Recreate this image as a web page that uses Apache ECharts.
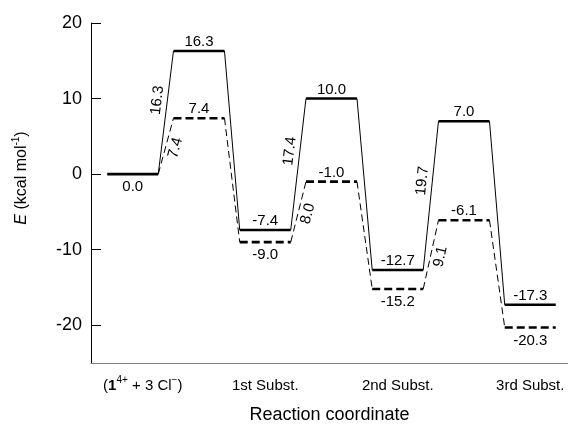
<!DOCTYPE html>
<html>
<head>
<meta charset="utf-8">
<script src="https://cdn.jsdelivr.net/npm/echarts@6/dist/echarts.min.js"></script>
<style>
  html, body { margin: 0; padding: 0; background: #fff; }
  #main { width: 568px; height: 429px; }
</style>
</head>
<body>
<div id="main"></div>
<script>
// energies (kcal/mol) for each point on the reaction path
var stagePos = [0, 2, 4, 6];
var stageNames = ['(1^4+ + 3 Cl^-)', '1st Subst.', '2nd Subst.', '3rd Subst.'];
var solidE = [0.0, 16.3, -7.4, 10.0, -12.7, 7.0, -17.3];
var dashedE = [0.0, 7.4, -9.0, -1.0, -15.2, -6.1, -20.3];
var solidBarrier = [16.3, 17.4, 19.7];   // 活化能 (实线)
var dashedBarrier = [7.4, 8.0, 9.1];     // 活化能 (虚线)
var yTicks = [-20, -10, 0, 10, 20];

var FONT = 'Liberation Sans, Arial, sans-serif';
var HALF = 0.385; // 半个能级宽度

var myChart = echarts.init(document.getElementById('main'));

function makeRender(values, barriers, dashed) {
    return function (params, api) {
        var i = api.value(0), e = api.value(1);
        var a = api.coord([i - HALF, e]);
        var b = api.coord([i + HALF, e]);
        var children = [];
        if (!(dashed && i === 0)) {
            children.push({
                type: 'line',
                shape: {x1: a[0], y1: a[1], x2: b[0], y2: b[1]},
                style: {stroke: '#000', lineWidth: 2.6, lineDash: dashed ? [8, 4] : null}
            });
            var below = dashed ? (i % 2 === 0) : (i === 0);
            children.push({
                type: 'text',
                x: (a[0] + b[0]) / 2,
                y: a[1] + (below ? 13 : -9),
                style: {text: e.toFixed(1), fill: '#000', fontSize: 15, fontFamily: FONT,
                        align: 'center', verticalAlign: 'middle'}
            });
        }
        if (i < values.length - 1) {
            var c = api.coord([i + 1 - HALF, values[i + 1]]);
            children.push({
                type: 'line',
                shape: {x1: b[0], y1: b[1], x2: c[0], y2: c[1]},
                style: {stroke: '#000', lineWidth: 1, lineDash: dashed ? [7, 4] : null}
            });
            if (i % 2 === 0) {
                var f = dashed ? 0.47 : 0.6;
                var ang = Math.atan2(-(c[1] - b[1]), c[0] - b[0]);
                children.push({
                    type: 'text',
                    x: b[0] + (c[0] - b[0]) * f + (dashed ? 10 : -10),
                    y: b[1] + (c[1] - b[1]) * f,
                    rotation: ang,
                    style: {text: barriers[i / 2].toFixed(1), fill: '#000', fontSize: 15, fontFamily: FONT,
                            align: 'center', verticalAlign: 'middle'}
                });
            }
        }
        return {type: 'group', children: children};
    };
}

function toData(values) {
    return values.map(function (e, i) { return [i, e]; });
}

var option = {
    animation: false,
    backgroundColor: '#fff',
    grid: {left: 91, right: 0, top: 23, bottom: 61},
    xAxis: {
        type: 'value',
        min: -0.63,
        max: 6.57,
        name: 'Reaction coordinate',
        nameLocation: 'middle',
        nameGap: 43,
        nameTextStyle: {fontSize: 18, fontFamily: FONT, color: '#000'},
        axisLine: {onZero: false, lineStyle: {color: '#808080', width: 1}},
        axisTick: {show: false},
        splitLine: {show: false},
        axisLabel: {
            customValues: stagePos,
            margin: 12,
            color: '#000',
            fontSize: 15,
            fontFamily: FONT,
            formatter: function (v) {
                var k = stagePos.indexOf(v);
                if (k === 0) {
                    return '{lp|(}{b|1}{sup|4+}{n| + 3 Cl}{sup|\u2212}{n|)}';
                }
                return '{n|' + stageNames[k] + '}';
            },
            rich: {
                lp: {fontSize: 15, fontFamily: FONT, color: '#000', lineHeight: 21, padding: [0, 0, 0, 20]},
                n: {fontSize: 15, fontFamily: FONT, color: '#000', lineHeight: 21},
                b: {fontSize: 15, fontFamily: FONT, color: '#000', fontWeight: 'bold', lineHeight: 21},
                sup: {fontSize: 10, fontFamily: FONT, color: '#000', verticalAlign: 'top'}
            }
        }
    },
    yAxis: {
        type: 'value',
        min: -25,
        max: 20,
        name: '{i|E} (kcal mol{sup|-1})',
        nameLocation: 'middle',
        nameRotate: 90,
        nameGap: 58,
        nameTextStyle: {
            fontSize: 16, fontFamily: FONT, color: '#000', padding: [0, 0, 0, 30],
            rich: {
                i: {fontSize: 16, fontFamily: FONT, color: '#000', fontStyle: 'italic', lineHeight: 22},
                sup: {fontSize: 10, fontFamily: FONT, color: '#000', verticalAlign: 'top'}
            }
        },
        axisLine: {onZero: false, lineStyle: {color: '#000', width: 1}},
        axisTick: {show: true, inside: true, length: 10, customValues: yTicks, lineStyle: {color: '#000'}},
        axisLabel: {customValues: yTicks, margin: 9, color: '#000', fontSize: 18, fontFamily: FONT},
        splitLine: {show: false}
    },
    series: [
        {
            name: 'solid',
            type: 'custom',
            renderItem: makeRender(solidE, solidBarrier, false),
            data: toData(solidE),
            clip: false,
            silent: true
        },
        {
            name: 'dashed',
            type: 'custom',
            renderItem: makeRender(dashedE, dashedBarrier, true),
            data: toData(dashedE),
            clip: false,
            silent: true
        }
    ]
};

myChart.setOption(option);
</script>
</body>
</html>
